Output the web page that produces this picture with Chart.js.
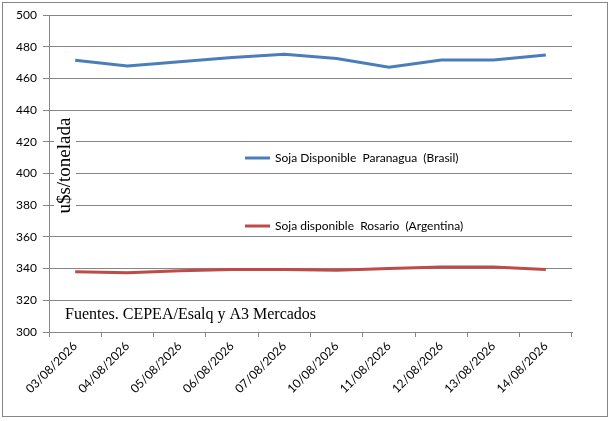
<!DOCTYPE html>
<html>
<head>
<meta charset="utf-8">
<script src="https://cdn.jsdelivr.net/npm/chart.js@4"></script>
<style>
  html, body { margin: 0; padding: 0; background: #fff; }
  #wrap { position: relative; width: 616px; height: 421px; }
</style>
</head>
<body>
<div id="wrap"><canvas id="chart" width="616" height="421"></canvas></div>
<script>
const fechas = ['03/08/2026', '04/08/2026', '05/08/2026', '06/08/2026', '07/08/2026',
  '10/08/2026', '11/08/2026', '12/08/2026', '13/08/2026', '14/08/2026'];
const paranagua = [471.5, 467.8, 470.5, 473.2, 475.3, 472.6, 467, 471.6, 471.6, 474.8];
const rosario = [338, 337.4, 338.6, 339.5, 339.5, 339, 340, 341, 341, 339.5];
const nombres = ['Soja Disponible  Paranagua  (Brasil)', 'Soja disponible  Rosario  (Argentina)'];
const colores = ['#4a7ebb', '#be4b48'];

const tickFont = { family: 'Lato, "Liberation Sans", sans-serif', size: 12 };

// marco, titulo del eje, fuente y leyendas dentro del grafico
const extras = {
  id: 'extras',
  beforeDraw(chart) {
    const ctx = chart.ctx;
    ctx.save();
    ctx.fillStyle = '#fff';
    ctx.fillRect(0, 0, chart.width, chart.height);
    ctx.strokeStyle = '#868686';
    ctx.lineWidth = 1;
    ctx.strokeRect(2.5, 2.5, 605, 414);
    ctx.restore();
  },
  afterDatasetsDraw(chart) {
    const ctx = chart.ctx;
    const y = chart.scales.y;
    ctx.save();

    // titulo eje Y
    ctx.font = '19px "Liberation Serif", "Times New Roman", serif';
    ctx.translate(65, y.getPixelForValue(405));
    ctx.rotate(-Math.PI / 2);
    const w = ctx.measureText('u$s/tonelada').width;
    ctx.fillStyle = '#fff';
    ctx.fillRect(-w / 2 - 2, -11, w + 4, 22);
    ctx.fillStyle = '#000';
    ctx.textAlign = 'center';
    ctx.textBaseline = 'middle';
    ctx.fillText('u$s/tonelada', 0, 0);
    ctx.setTransform(1, 0, 0, 1, 0, 0);

    // fuente
    ctx.font = '16px "Liberation Serif", "Times New Roman", serif';
    ctx.textAlign = 'left';
    ctx.fillText('Fuentes. CEPEA/Esalq y A3 Mercados', 65, 315);

    // leyendas
    const posY = [158, 226];
    ctx.font = '12px Lato, "Liberation Sans", sans-serif';
    nombres.forEach((n, i) => {
      ctx.strokeStyle = colores[i];
      ctx.lineWidth = 3;
      ctx.beginPath();
      ctx.moveTo(245, posY[i]);
      ctx.lineTo(270, posY[i]);
      ctx.stroke();
      ctx.fillStyle = '#000';
      ctx.fillText(n, 275, posY[i]);
    });
    ctx.restore();
  }
};

new Chart(document.getElementById('chart'), {
  type: 'line',
  data: {
    labels: fechas,
    datasets: [
      { label: nombres[0], data: paranagua, borderColor: colores[0], borderWidth: 3, pointRadius: 0, tension: 0 },
      { label: nombres[1], data: rosario, borderColor: colores[1], borderWidth: 3, pointRadius: 0, tension: 0 }
    ]
  },
  options: {
    responsive: false,
    animation: false,
    layout: { padding: { left: 0, right: 44, top: 15, bottom: 0 } },
    plugins: { legend: { display: false }, tooltip: { enabled: false } },
    scales: {
      x: {
        offset: true,
        grid: { offset: true, drawOnChartArea: false, drawTicks: true, tickLength: 5, color: '#868686' },
        border: { color: '#868686' },
        ticks: { color: '#000', font: tickFont, minRotation: 45, maxRotation: 45, padding: 2 },
        afterFit(s) { s.height = 421 - 332; }
      },
      y: {
        min: 300, max: 500,
        grid: { color: '#868686', tickLength: 6 },
        border: { color: '#868686' },
        ticks: { stepSize: 20, color: '#000', font: tickFont, padding: 6 },
        afterFit(s) { s.width = 49; }
      }
    }
  },
  plugins: [extras]
});
</script>
</body>
</html>
